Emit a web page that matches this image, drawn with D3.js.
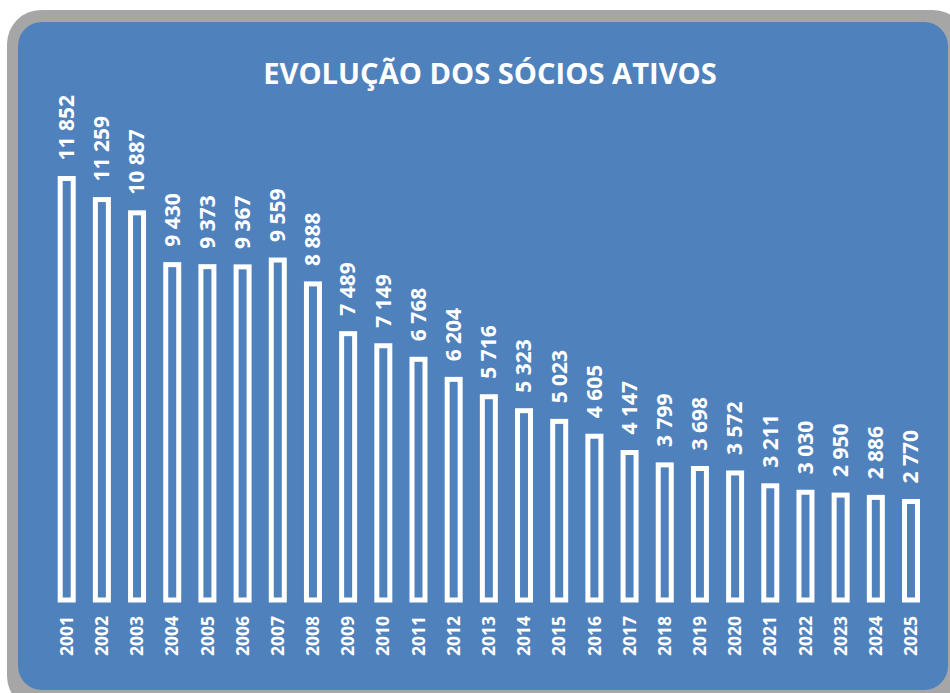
<!DOCTYPE html>
<html><head><meta charset="utf-8">
<script src="https://cdn.jsdelivr.net/npm/d3@7"></script>
<style>body{margin:0;background:#fff;}svg{display:block;}</style>
</head><body>
<svg id="chart" width="950" height="693"></svg>
<script>
const title = "EVOLUÇÃO DOS SÓCIOS ATIVOS";
const years = ["2001","2002","2003","2004","2005","2006","2007","2008","2009","2010","2011","2012","2013","2014","2015","2016","2017","2018","2019","2020","2021","2022","2023","2024","2025"];
const socios = [11852,11259,10887,9430,9373,9367,9559,8888,7489,7149,6768,6204,5716,5323,5023,4605,4147,3799,3698,3572,3211,3030,2950,2886,2770];

const svg = d3.select("#chart");
const font = "'Open Sans', sans-serif";

// frame
svg.append("rect").attr("x",7).attr("y",10).attr("width",960).attr("height",700)
  .attr("rx",34).attr("fill","#a6a6a6");
svg.append("rect").attr("x",18).attr("y",22).attr("width",930).attr("height",668)
  .attr("rx",24).attr("fill","#4f81bd");

const step = (911 - 66.7) / 24;
const x = d3.scaleBand().domain(years)
  .range([66.7 - step/2, 911 + step/2]).paddingInner(0.48).paddingOuter(0.24);
const y = d3.scaleLinear().domain([0, 11852]).range([600, 178.5]);

const loc = d3.formatLocale({decimal:",", thousands:" ", grouping:[3], currency:["",""]});
const fmt = loc.format(",d");

const data = years.map((yr,i)=>({year:yr, v:socios[i]}));
const bw = 13;

svg.append("g").selectAll("rect").data(data).join("rect")
  .attr("x", d => x(d.year) + x.bandwidth()/2 - bw/2)
  .attr("y", d => y(d.v))
  .attr("width", bw)
  .attr("height", d => y(0) - y(d.v))
  .attr("fill","#4f81bd").attr("stroke","#fff").attr("stroke-width",5);

svg.append("g").selectAll("text").data(data).join("text")
  .attr("transform", d => `translate(${x(d.year)+x.bandwidth()/2},${y(d.v)-18}) rotate(-90)`)
  .attr("dy","0.35em").attr("text-anchor","start")
  .attr("fill","#fff").attr("font-family",font).attr("font-weight","bold").attr("font-size",21)
  .text(d => fmt(d.v));

// x axis labels
const xAxis = d3.axisBottom(x).tickSize(0).tickPadding(0);
const gx = svg.append("g").attr("transform","translate(0,616)").call(xAxis);
gx.select(".domain").remove();
gx.selectAll("text")
  .attr("transform","rotate(-90)")
  .attr("x",0).attr("y",0).attr("dy","0.35em")
  .attr("text-anchor","end")
  .attr("fill","#fff").attr("font-family",font).attr("font-weight","bold").attr("font-size",17.5);

const t = svg.append("text").attr("x",490).attr("y",84).attr("text-anchor","middle")
  .attr("fill","#fff").attr("font-family",font).attr("font-weight","bold").attr("font-size",27)
  .text(title);
const w = t.node().getComputedTextLength();
t.attr("font-size", 27 * 454 / w);
</script>
</body></html>
